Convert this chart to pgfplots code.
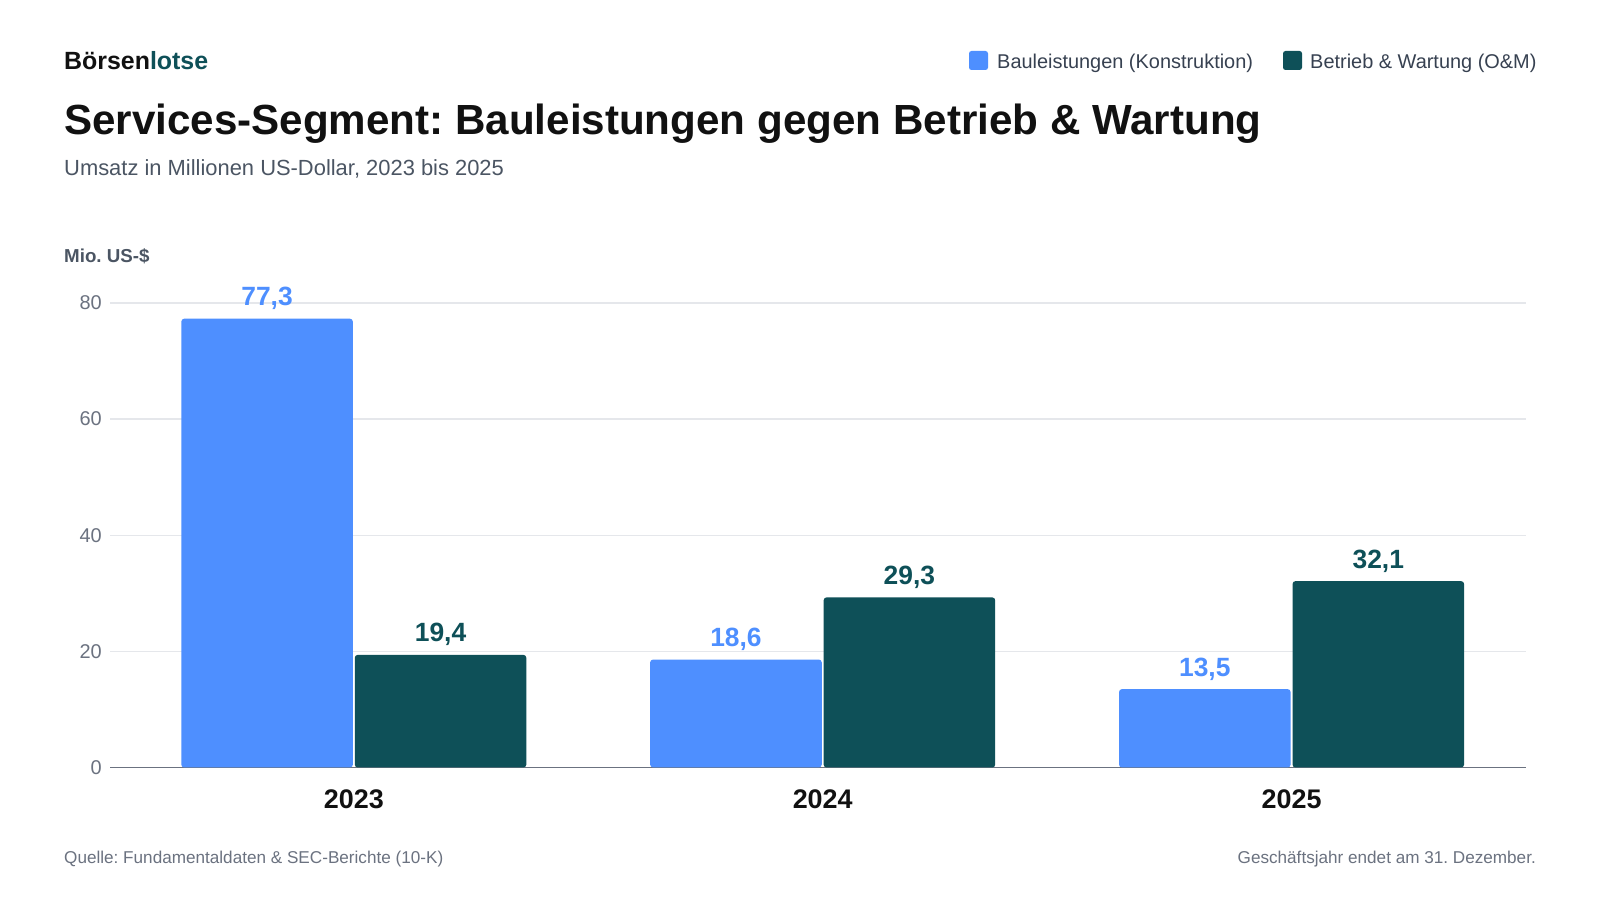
\documentclass[border=0pt]{standalone}
\usepackage{fontspec}
\setmainfont{Liberation Sans}
\usepackage{pgfplots}
\pgfplotsset{compat=1.18}
\definecolor{cBlue}{HTML}{4E8FFF}
\definecolor{cTeal}{HTML}{0E5058}
\definecolor{cTitle}{HTML}{111111}
\definecolor{cSub}{HTML}{4B5563}
\definecolor{cTick}{HTML}{6B7280}
\definecolor{cLeg}{HTML}{374151}
\definecolor{cGrid}{HTML}{E5E7EB}
\definecolor{cAxis}{HTML}{6B7280}
\frenchspacing
\begin{document}
\begin{tikzpicture}
\useasboundingbox (0,0) rectangle (1600bp,900bp);
\fill[white] (0,0) rectangle (1600bp,900bp);
% header
\node[anchor=base west, inner sep=0, text=cTitle] at (64bp,830.6bp) {\fontsize{25}{28}\selectfont\bfseries Börsen\textcolor{cTeal}{lotse}};
\node[anchor=base west, inner sep=0, text=cTitle] at (64bp,765.3bp) {\fontsize{42.3}{46}\selectfont\bfseries Services-Segment: Bauleistungen gegen Betrieb \& Wartung};
\node[anchor=base west, inner sep=0, text=cSub] at (64bp,724.5bp) {\fontsize{22}{26}\selectfont Umsatz in Millionen US-Dollar, 2023 bis 2025};
\node[anchor=base west, inner sep=0, text=cSub] at (64bp,637bp) {\fontsize{18.8}{22}\selectfont\bfseries Mio. US-\$};
% legend
\fill[cBlue, rounded corners=2.5bp] (969bp,830bp) rectangle (988bp,849bp);
\node[anchor=base west, inner sep=0, text=cLeg] at (997bp,831.6bp) {\fontsize{20}{24}\selectfont Bauleistungen (Konstruktion)};
\fill[cTeal, rounded corners=2.5bp] (1283bp,830bp) rectangle (1302bp,849bp);
\node[anchor=base west, inner sep=0, text=cLeg] at (1310bp,831.6bp) {\fontsize{20}{24}\selectfont Betrieb \& Wartung (O\&M)};
% footer
\node[anchor=base west, inner sep=0, text=cTick] at (64bp,37bp) {\fontsize{17.2}{20}\selectfont Quelle: Fundamentaldaten \& SEC-Berichte (10-K)};
\node[anchor=base east, inner sep=0, text=cTick] at (1536bp,37bp) {\fontsize{17.2}{20}\selectfont Geschäftsjahr endet am 31. Dezember.};
\begin{axis}[
  at={(110bp,132.5bp)}, anchor=south west,
  scale only axis, width=1416bp, height=464.5bp,
  xmin=-0.52, xmax=2.5, ymin=0, ymax=80,
  axis lines*=left,
  x axis line style={draw=cAxis, line width=1.6bp, -},
  y axis line style={draw=none},
  major tick length=0pt,
  xtick={0,1,2}, xticklabels={2023,2024,2025},
  ytick={0,20,40,60,80},
  ymajorgrids, grid style={draw=cGrid, line width=1.4bp},
  /pgf/number format/assume math mode=true,
  yticklabel style={font=\fontsize{20}{24}\selectfont, text=cTick, anchor=east, inner sep=0, xshift=-8bp},
  xticklabel style={font=\fontsize{27}{30}\selectfont\bfseries, text=cTitle, anchor=base, inner sep=0, yshift=-40.5bp},
  ybar, bar width=0.366,
  clip=false,
  nodes near coords={\pgfmathprintnumber[fixed, fixed zerofill, precision=1, use comma]{\pgfplotspointmeta}},
  nodes near coords style={font=\fontsize{26.5}{30}\selectfont\bfseries, anchor=base, inner sep=0, yshift=13bp},
]
\addplot[draw=none, fill=cBlue, bar shift=-0.185, rounded corners=3bp, every node near coord/.append style={text=cBlue}] coordinates {(0,77.3) (1,18.6) (2,13.5)};
\addplot[draw=none, fill=cTeal, bar shift=0.185, rounded corners=3bp, every node near coord/.append style={text=cTeal}] coordinates {(0,19.4) (1,29.3) (2,32.1)};
\end{axis}
\end{tikzpicture}
\end{document}
